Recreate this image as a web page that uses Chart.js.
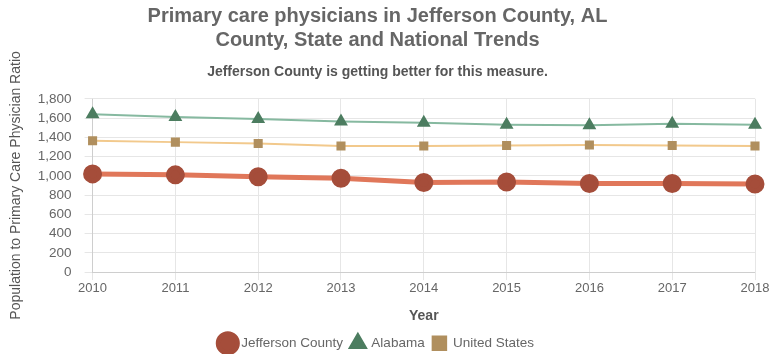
<!DOCTYPE html>
<html>
<head>
<meta charset="utf-8">
<title>Primary care physicians</title>
<script src="https://cdn.jsdelivr.net/npm/chart.js@4/dist/chart.umd.min.js"></script>
<style>
  html, body { margin: 0; padding: 0; background: #fff; }
  #wrap { width: 778px; height: 354px; }
</style>
</head>
<body>
<div id="wrap"><canvas id="trendChart" width="778" height="354"></canvas></div>
<script>
// chart data
const years = ['2010', '2011', '2012', '2013', '2014', '2015', '2016', '2017', '2018'];
const jeffersonCounty = [1020, 1010, 990, 975, 930, 935, 920, 920, 915];
const alabama = [1640, 1610, 1590, 1565, 1550, 1530, 1525, 1540, 1530];
const unitedStates = [1365, 1350, 1335, 1310, 1310, 1315, 1320, 1315, 1310];

const fontFamily = "'Liberation Sans', Arial, sans-serif";

(function() {
    'use strict';

    const ctx = document.getElementById('trendChart');
    new Chart(ctx, {
        type: 'line',
        data: {
            labels: years,
            datasets: [
                {
                    label: 'Jefferson County',
                    data: jeffersonCounty,
                    borderColor: '#e0775a',
                    backgroundColor: '#a54d3a',
                    pointBackgroundColor: '#a54d3a',
                    pointBorderColor: '#a54d3a',
                    borderWidth: 5,
                    pointRadius: 7,
                    pointStyle: 'circle',
                    tension: 0
                },
                {
                    label: 'Alabama',
                    data: alabama,
                    borderColor: '#86b9a0',
                    backgroundColor: '#4c7d60',
                    pointBackgroundColor: '#4c7d60',
                    pointBorderColor: '#4c7d60',
                    borderWidth: 2,
                    pointRadius: 6,
                    pointStyle: 'triangle',
                    tension: 0
                },
                {
                    label: 'United States',
                    data: unitedStates,
                    borderColor: '#f2c98c',
                    backgroundColor: '#b08f5e',
                    pointBackgroundColor: '#b08f5e',
                    pointBorderColor: '#b08f5e',
                    borderWidth: 2,
                    pointRadius: 5,
                    pointStyle: 'rect',
                    tension: 0
                }
            ]
        },
        options: {
            responsive: false,
            animation: false,
            layout: { padding: { left: 0, right: 23, top: 2, bottom: -6 } },
            plugins: {
                title: {
                    display: true,
                    text: ['Primary care physicians in Jefferson County, AL', 'County, State and National Trends'],
                    color: '#666',
                    font: { family: fontFamily, size: 20, weight: 'bold', lineHeight: 1.2 },
                    padding: { top: 2, bottom: 6 }
                },
                subtitle: {
                    display: true,
                    text: 'Jefferson County is getting better for this measure.',
                    color: '#555',
                    font: { family: fontFamily, size: 14, weight: 'bold' },
                    padding: { top: 6, bottom: 18 }
                },
                legend: {
                    position: 'bottom',
                    labels: {
                        usePointStyle: true,
                        color: '#666',
                        font: { family: fontFamily, size: 13.5 },
                        padding: 8
                    }
                },
                tooltip: { enabled: false }
            },
            scales: {
                x: {
                    title: {
                        display: true,
                        text: 'Year',
                        color: '#555',
                        font: { family: fontFamily, size: 14, weight: 'bold' },
                        padding: { top: 10, bottom: 4 }
                    },
                    ticks: { padding: 1, color: '#666', font: { family: fontFamily, size: 13 } },
                    grid: { color: '#e6e6e6' }
                },
                y: {
                    min: 0,
                    max: 1800,
                    title: {
                        display: true,
                        text: 'Population to Primary Care Physician Ratio',
                        color: '#555',
                        font: { family: fontFamily, size: 14 },
                        padding: { top: 8, bottom: 0 }
                    },
                    ticks: {
                        stepSize: 200,
                        padding: 13,
                        autoSkip: false,
                        color: '#666',
                        font: { family: fontFamily, size: 13.5 },
                        callback: function(value) {
                            return value.toLocaleString('en-US');
                        }
                    },
                    grid: { color: '#e6e6e6' }
                }
            }
        }
    });
})();
</script>
</body>
</html>
